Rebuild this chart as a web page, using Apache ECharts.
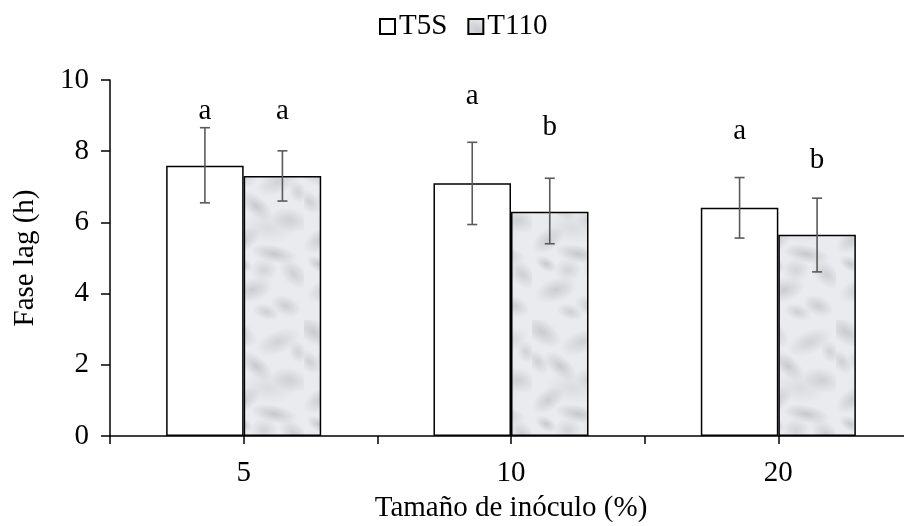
<!DOCTYPE html>
<html>
<head>
<meta charset="utf-8">
<script src="https://cdn.jsdelivr.net/npm/echarts@6/dist/echarts.min.js"></script>
<style>html,body{margin:0;padding:0;background:#fff}#c{width:904px;height:526px}</style>
</head>
<body>
<div id="c"></div>
<script>
const categories = ['5', '10', '20'];
const seriesNames = ['T5S', 'T110'];
const t5s = [7.59, 7.10, 6.41];
const t110 = [7.30, 6.30, 5.65];
const t5sErrHigh = [8.66, 8.25, 7.26];
const t5sErrLow = [6.55, 5.94, 5.56];
const t110ErrHigh = [8.01, 7.24, 6.68];
const t110ErrLow = [6.60, 5.40, 4.61];
const t5sLetters = ['a', 'a', 'a'];
const t110Letters = ['a', 'b', 'b'];
const t5sLetterY = [9.11, 9.53, 8.56];
const t110LetterY = [9.11, 8.68, 7.75];
const yTicks = [0, 2, 4, 6, 8, 10];

const FONT = 'Liberation Serif';
const FS = 29;
const BAR_FRAC = 0.29; // each bar's share of the category band

// cloudy marble-like texture for T110 (styling only)
function makeTexture() {
  const cv = document.createElement('canvas');
  cv.width = 76; cv.height = 160;
  const ctx = cv.getContext('2d');
  ctx.fillStyle = '#eaebee';
  ctx.fillRect(0, 0, 76, 160);
  const blots = [
    [10, 12, 22, 12, 0.6, 0.26], [50, 22, 24, 12, -0.4, 0.2], [28, 46, 20, 10, 0.7, 0.26],
    [62, 60, 20, 12, 0.3, 0.22], [16, 80, 18, 11, -0.6, 0.24], [46, 94, 24, 9, 0.2, 0.28],
    [66, 114, 18, 11, 0.8, 0.22], [24, 130, 22, 12, -0.3, 0.24], [40, 68, 28, 16, 0.1, 0.12],
    [6, 42, 14, 9, 0.9, 0.22], [58, 146, 16, 10, 0.4, 0.24], [36, 110, 14, 12, 0, 0.18],
    [70, 32, 12, 9, 1.2, 0.2], [14, 104, 12, 7, 0.5, 0.26], [38, 152, 14, 8, 0.3, 0.22]
  ];
  blots.forEach(function (b) {
    ctx.save();
    ctx.translate(b[0], b[1]);
    ctx.rotate(b[4]);
    ctx.scale(b[2] / b[3], 1);
    const g = ctx.createRadialGradient(0, 0, 0, 0, 0, b[3]);
    g.addColorStop(0, 'rgba(105,108,115,' + b[5] + ')');
    g.addColorStop(1, 'rgba(105,108,115,0)');
    ctx.fillStyle = g;
    ctx.beginPath();
    ctx.arc(0, 0, b[3], 0, Math.PI * 2);
    ctx.fill();
    ctx.restore();
  });
  return cv;
}
const tex = makeTexture();

const chart = echarts.init(document.getElementById('c'), null, {renderer: 'canvas'});

function errorSeries(name, low, high, side) {
  return {
    type: 'custom',
    name: name + '_err',
    xAxisIndex: 0, yAxisIndex: 0,
    z: 5,
    silent: true,
    data: categories.map(function (c, i) { return [i, low[i], high[i]]; }),
    renderItem: function (params, api) {
      const i = api.value(0);
      const band = api.size([1, 0])[0];
      const dx = side * band * BAR_FRAC / 2;
      const lo = api.coord([i, api.value(1)]);
      const hi = api.coord([i, api.value(2)]);
      const x = lo[0] + dx;
      const cap = 5;
      const st = {stroke: '#5a5a5a', lineWidth: 1.6};
      return {
        type: 'group',
        children: [
          {type: 'line', shape: {x1: x, y1: lo[1], x2: x, y2: hi[1]}, style: st},
          {type: 'line', shape: {x1: x - cap, y1: lo[1], x2: x + cap, y2: lo[1]}, style: st},
          {type: 'line', shape: {x1: x - cap, y1: hi[1], x2: x + cap, y2: hi[1]}, style: st}
        ]
      };
    }
  };
}

function letterSeries(name, ys, letters, side) {
  return {
    type: 'custom',
    name: name + '_sig',
    xAxisIndex: 0, yAxisIndex: 0,
    z: 6,
    silent: true,
    data: categories.map(function (c, i) { return [i, ys[i], letters[i]]; }),
    renderItem: function (params, api) {
      const i = api.value(0);
      const band = api.size([1, 0])[0];
      const p = api.coord([i, api.value(1)]);
      return {
        type: 'text',
        x: p[0] + side * band * BAR_FRAC / 2,
        y: p[1],
        style: {
          text: letters[params.dataIndex],
          fontFamily: FONT, fontSize: FS, fill: '#000',
          align: 'center', verticalAlign: 'middle'
        }
      };
    }
  };
}

const axisTxt = {fontFamily: FONT, fontSize: FS, color: '#000'};

chart.setOption({
  animation: false,
  backgroundColor: '#fff',
  textStyle: {fontFamily: FONT},
  legend: {
    data: seriesNames,
    top: 7,
    left: 374,
    itemWidth: 15,
    itemHeight: 15,
    itemGap: 20,
    textStyle: {fontFamily: FONT, fontSize: FS, color: '#000', padding: [0,0,0,-1]},
    icon: 'rect'
  },
  grid: {left: 110, right: -8, top: 80, bottom: 90, containLabel: false, outerBoundsMode: 'none'},
  xAxis: [{
    type: 'category',
    data: categories,
    position: 'bottom',
    offset: 0,
    boundaryGap: true,
    name: 'Tamaño de inóculo (%)',
    nameLocation: 'middle',
    nameGap: 58,
    nameTextStyle: axisTxt,
    axisLine: {lineStyle: {color: '#000', width: 1.5}},
    axisTick: {show: true, inside: false, length: 8, lineStyle: {color: '#000', width: 1.5}},
    axisLabel: Object.assign({margin: 23}, axisTxt),
    splitLine: {show: false}
  }, {
    type: 'category',
    data: categories,
    position: 'bottom',
    offset: 0,
    boundaryGap: true,
    axisLine: {show: false},
    axisTick: {show: true, alignWithLabel: true, length: 8, lineStyle: {color: '#000', width: 1.5}},
    axisLabel: {show: false},
    splitLine: {show: false}
  }],
  yAxis: {
    type: 'value',
    min: yTicks[0],
    max: yTicks[yTicks.length - 1],
    interval: 2,
    name: 'Fase lag (h)',
    nameLocation: 'middle',
    nameGap: 70,
    nameRotate: 90,
    nameTextStyle: axisTxt,
    axisLine: {show: true, lineStyle: {color: '#000', width: 1.5}},
    axisTick: {show: true, inside: false, length: 9, lineStyle: {color: '#000', width: 1.5}},
    axisLabel: Object.assign({margin: 21}, axisTxt),
    splitLine: {show: false}
  },
  series: [{
    name: seriesNames[0],
    type: 'bar',
    data: t5s,
    barGap: '0%',
    barCategoryGap: '42%',
    itemStyle: {color: '#ffffff', borderColor: '#000', borderWidth: 1.5}
  }, {
    name: seriesNames[1],
    type: 'bar',
    data: t110,
    barGap: '0%',
    barCategoryGap: '42%',
    itemStyle: {color: {image: tex, repeat: 'repeat'}, borderColor: '#000', borderWidth: 1.5}
  },
    errorSeries(seriesNames[0], t5sErrLow, t5sErrHigh, -1),
    errorSeries(seriesNames[1], t110ErrLow, t110ErrHigh, 1),
    letterSeries(seriesNames[0], t5sLetterY, t5sLetters, -1),
    letterSeries(seriesNames[1], t110LetterY, t110Letters, 1)
  ]
});
</script>
</body>
</html>
